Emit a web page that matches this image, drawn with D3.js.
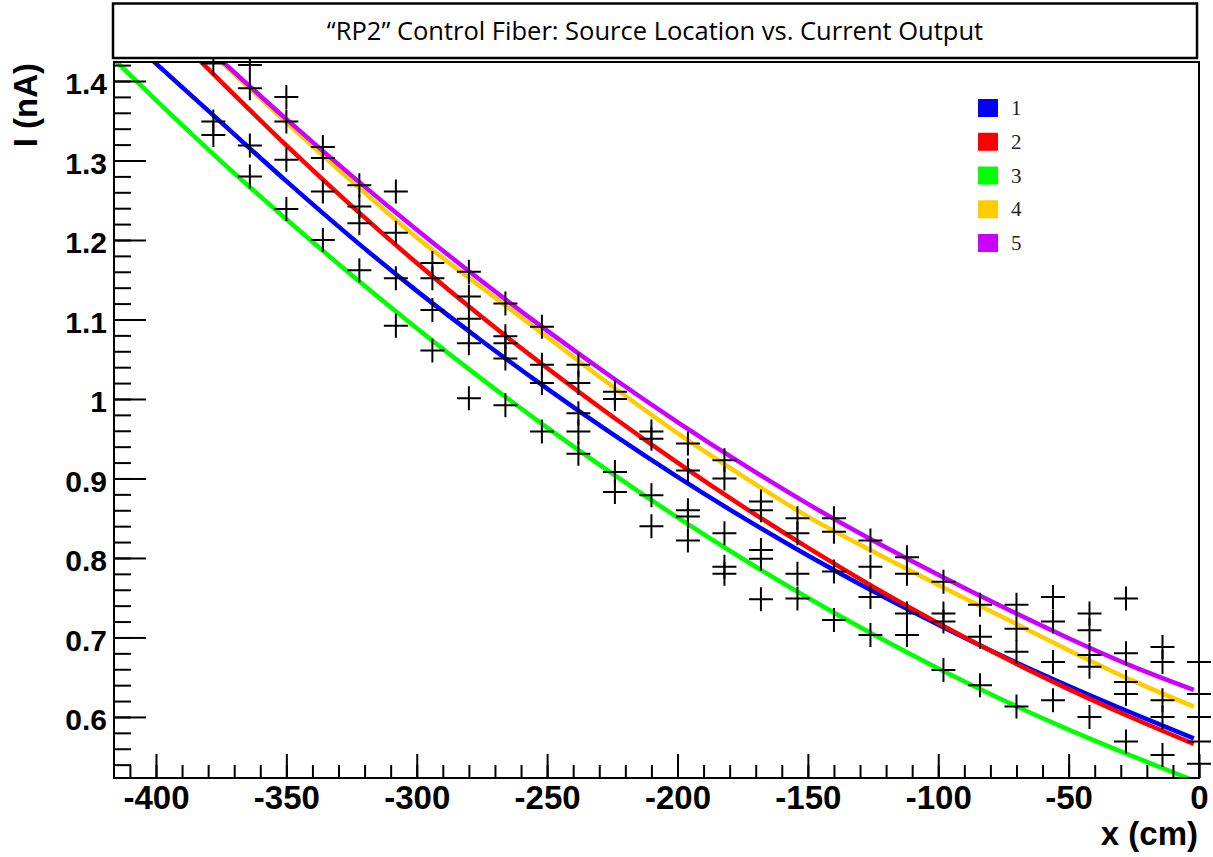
<!DOCTYPE html>
<html>
<head>
<meta charset="utf-8">
<script src="https://cdn.jsdelivr.net/npm/d3@7"></script>
<style>
  body { margin: 0; background: #fff; }
  svg { display: block; }
</style>
</head>
<body>
<script>
// fit curves, read at these x positions (cm)
const fitX = [-416, -400, -375, -350, -325, -300, -275, -250, -225, -200, -175, -150, -125, -100, -75, -50, -25, -2];
const fit1 = [1.47, 1.422, 1.348, 1.274, 1.203, 1.136, 1.073, 1.013, 0.956, 0.902, 0.851, 0.803, 0.758, 0.716, 0.676, 0.639, 0.604, 0.573];
const fit2 = [1.53, 1.48, 1.399, 1.319, 1.243, 1.171, 1.103, 1.039, 0.978, 0.920, 0.865, 0.813, 0.764, 0.718, 0.675, 0.635, 0.598, 0.566];
const fit3 = [1.427, 1.376, 1.299, 1.226, 1.156, 1.089, 1.025, 0.964, 0.906, 0.851, 0.799, 0.750, 0.704, 0.661, 0.621, 0.584, 0.550, 0.520];
const fit4 = [1.55, 1.50, 1.424, 1.348, 1.274, 1.203, 1.140, 1.078, 1.016, 0.957, 0.903, 0.852, 0.808, 0.766, 0.725, 0.684, 0.645, 0.613];
const fit5 = [1.55, 1.50, 1.426, 1.352, 1.281, 1.213, 1.148, 1.086, 1.027, 0.971, 0.918, 0.868, 0.822, 0.779, 0.738, 0.699, 0.663, 0.634];

const seriesNames = ["1", "2", "3", "4", "5"];
const colors = ["#0000ff", "#ff0000", "#00ff00", "#ffcc00", "#cc00ff"];

// measured points (cross markers), one column per source position
const markX = [-378, -364, -350, -336, -322, -308, -294, -280, -266, -252, -238, -224, -210, -196,
  -182, -168, -154, -140, -126, -112, -98, -84, -70, -56, -42, -28, -14, 0];
const markI = [
  [1.422, 1.349, 1.332],
  [1.420, 1.391, 1.319, 1.280],
  [1.380, 1.349, 1.301, 1.239],
  [1.317, 1.303, 1.261, 1.200],
  [1.269, 1.242, 1.221, 1.162],
  [1.261, 1.209, 1.152, 1.092],
  [1.171, 1.152, 1.112, 1.061],
  [1.160, 1.129, 1.101, 1.070, 1.001],
  [1.120, 1.079, 1.070, 1.051, 0.992],
  [1.091, 1.043, 1.020, 0.959],
  [1.043, 1.020, 0.982, 0.959, 0.931],
  [1.009, 1.000, 0.908, 0.883],
  [0.959, 0.950, 0.879, 0.840],
  [0.944, 0.910, 0.860, 0.852, 0.822],
  [0.923, 0.900, 0.831, 0.789, 0.780],
  [0.871, 0.860, 0.810, 0.799, 0.748],
  [0.850, 0.831, 0.780, 0.749],
  [0.850, 0.833, 0.783, 0.722],
  [0.822, 0.789, 0.751, 0.703],
  [0.801, 0.780, 0.730, 0.703],
  [0.770, 0.730, 0.720, 0.659],
  [0.741, 0.701, 0.640],
  [0.741, 0.711, 0.682, 0.613],
  [0.751, 0.720, 0.669, 0.621],
  [0.730, 0.709, 0.678, 0.663, 0.600],
  [0.749, 0.680, 0.644, 0.629, 0.569],
  [0.688, 0.669, 0.621, 0.600, 0.552],
  [0.669, 0.629, 0.600, 0.569, 0.541]
];

const xMajor = [-400, -350, -300, -250, -200, -150, -100, -50, 0];
const yMajor = [0.6, 0.7, 0.8, 0.9, 1, 1.1, 1.2, 1.3, 1.4];

const titleText = "\u201CRP2\u201D Control Fiber: Source Location vs. Current Output";

let width = 1213;
let height = 857;
const frame = { left: 114, right: 1199, top: 62, bottom: 778 };

const x = d3.scaleLinear().domain([-416.1, 0]).range([frame.left, frame.right]);
const y = d3.scaleLinear().domain([0.5232, 1.4239]).range([frame.bottom, frame.top]);

//Draw the canvas
const svg = d3.select("body")
  .append("svg")
  .attr("width", width)
  .attr("height", height);

svg.append("defs")
  .append("clipPath")
  .attr("id", "plotClip")
  .append("rect")
  .attr("x", frame.left)
  .attr("y", frame.top)
  .attr("width", frame.right - frame.left)
  .attr("height", frame.bottom - frame.top);

//Fit lines
const fits = [fit1, fit2, fit3, fit4, fit5];
const line = d3.line()
  .x((d) => x(d[0]))
  .y((d) => y(d[1]))
  .curve(d3.curveMonotoneX);

svg.append("g")
  .attr("clip-path", "url(#plotClip)")
  .selectAll("path")
  .data(fits)
  .enter()
  .append("path")
  .attr("d", (vals) => line(vals.map((v, i) => [fitX[i], v])))
  .attr("fill", "none")
  .attr("stroke", (d, i) => colors[i])
  .attr("stroke-width", 4.5)
  .attr("stroke-linejoin", "round");

//Axes: minor ticks first, then majors with labels
const axisFont = "'Liberation Sans', Arial, sans-serif";

svg.append("g")
  .attr("transform", `translate(0,${frame.bottom})`)
  .call(d3.axisBottom(x).tickValues(d3.range(-410, 1, 10)).tickSize(-13).tickFormat(""))
  .call((g) => g.select(".domain").remove())
  .call((g) => g.selectAll("line").attr("stroke", "#000").attr("stroke-width", 2));

svg.append("g")
  .attr("transform", `translate(0,${frame.bottom})`)
  .call(d3.axisBottom(x).tickValues(xMajor).tickSize(-24).tickPadding(8).tickFormat((d) => String(d)))
  .call((g) => g.select(".domain").remove())
  .call((g) => g.selectAll("line").attr("stroke", "#000").attr("stroke-width", 2))
  .call((g) => g.selectAll("text")
    .attr("font-family", axisFont)
    .attr("font-weight", "bold")
    .attr("font-size", 33)
    .attr("fill", "#000"));

svg.append("g")
  .attr("transform", `translate(${frame.left},0)`)
  .call(d3.axisLeft(y).tickValues(d3.range(54, 143, 2).map((v) => v / 100)).tickSize(-17).tickFormat(""))
  .call((g) => g.select(".domain").remove())
  .call((g) => g.selectAll("line").attr("stroke", "#000").attr("stroke-width", 2));

svg.append("g")
  .attr("transform", `translate(${frame.left},0)`)
  .call(d3.axisLeft(y).tickValues(yMajor).tickSize(-32).tickPadding(7).tickFormat((d) => String(d)))
  .call((g) => g.select(".domain").remove())
  .call((g) => g.selectAll("line").attr("stroke", "#000").attr("stroke-width", 2))
  .call((g) => g.selectAll("text")
    .attr("dy", "0.43em")
    .attr("font-family", axisFont)
    .attr("font-weight", "bold")
    .attr("font-size", 30)
    .attr("fill", "#000"));

//Frame
svg.append("rect")
  .attr("x", frame.left)
  .attr("y", frame.top)
  .attr("width", frame.right - frame.left)
  .attr("height", frame.bottom - frame.top)
  .attr("fill", "none")
  .attr("stroke", "#000")
  .attr("stroke-width", 2);

//Cross markers
const points = [];
markX.forEach((cx, i) => markI[i].forEach((v) => points.push([cx, v])));
const half = 12;

svg.append("g")
  .selectAll("path")
  .data(points)
  .enter()
  .append("path")
  .attr("d", (d) => {
    const px = x(d[0]);
    const py = y(d[1]);
    return `M${px - half},${py}H${px + half}M${px},${py - half}V${py + half}`;
  })
  .attr("stroke", "#000")
  .attr("stroke-width", 2)
  .attr("fill", "none");

//Axis titles
svg.append("text")
  .attr("x", frame.right - 1)
  .attr("y", 845)
  .attr("text-anchor", "end")
  .attr("font-family", axisFont)
  .attr("font-weight", "bold")
  .attr("font-size", 33)
  .text("x (cm)");

svg.append("text")
  .attr("transform", `translate(37,${frame.top + 1}) rotate(-90)`)
  .attr("text-anchor", "end")
  .attr("font-family", axisFont)
  .attr("font-weight", "bold")
  .attr("font-size", 33)
  .text("I (nA)");

//Legend
const legendY = d3.scalePoint().domain(seriesNames).range([108, 243]);
const legend = svg.append("g");

legend.selectAll("rect")
  .data(seriesNames)
  .enter()
  .append("rect")
  .attr("x", 978)
  .attr("y", (d) => legendY(d) - 9)
  .attr("width", 20)
  .attr("height", 18)
  .attr("fill", (d, i) => colors[i]);

legend.selectAll("text")
  .data(seriesNames)
  .enter()
  .append("text")
  .attr("x", 1011)
  .attr("y", (d) => legendY(d) + 7)
  .attr("font-family", "'Liberation Serif', 'Times New Roman', serif")
  .attr("font-size", 21)
  .attr("fill", "#222")
  .text((d) => d);

//Title box
svg.append("rect")
  .attr("x", 113)
  .attr("y", 3.5)
  .attr("width", 1084)
  .attr("height", 54.5)
  .attr("fill", "#fff")
  .attr("stroke", "#000")
  .attr("stroke-width", 2.5);

svg.append("text")
  .attr("x", 655)
  .attr("y", 39.5)
  .attr("text-anchor", "middle")
  .attr("font-family", "'Open Sans', sans-serif")
  .attr("font-size", 25.5)
  .attr("fill", "#000")
  .text(titleText);
</script>
</body>
</html>
